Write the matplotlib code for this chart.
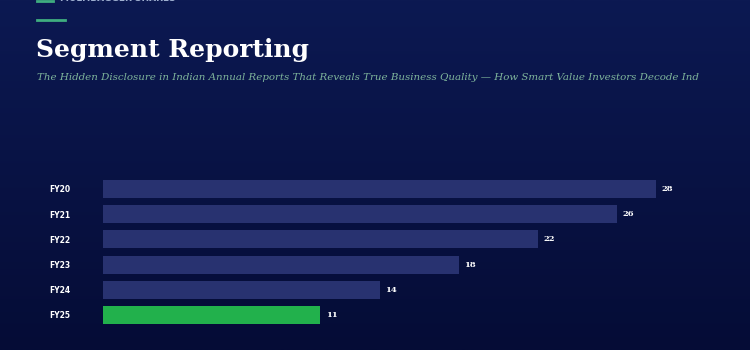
import numpy as np
import matplotlib
matplotlib.use("Agg")
import matplotlib.pyplot as plt
from matplotlib.colors import LinearSegmentedColormap

categories = ["FY20", "FY21", "FY22", "FY23", "FY24", "FY25"]
values = [28, 26, 22, 18, 14, 11]
value_labels = ["28", "26", "22", "18", "14", "11"]

W, H = 750, 350
fig = plt.figure(figsize=(W / 100, H / 100), dpi=100)

# background gradient
bg = fig.add_axes([0, 0, 1, 1], zorder=-10)
cmap = LinearSegmentedColormap.from_list("bg", ["#0c1952", "#050c36"])
grad = np.linspace(0, 1, 256).reshape(-1, 1)
bg.imshow(grad, aspect="auto", cmap=cmap, extent=[0, 1, 0, 1], origin="upper")
bg.set_axis_off()

def fx(px):
    return px / W

def fy(py):
    return 1 - py / H

# header
fig.add_artist(plt.Line2D([fx(37), fx(53)], [fy(0.5), fy(0.5)], color="#3fae80", lw=2))
fig.text(fx(60), fy(-1.5), "MULTIBAGGER SHARES", color="#9fb0d0", fontsize=6.5,
         fontweight="bold", family="DejaVu Sans", va="center", ha="left")
fig.add_artist(plt.Line2D([fx(37), fx(65)], [fy(20), fy(20)], color="#3fae80", lw=2))
fig.text(fx(36), fy(57), "Segment Reporting", color="white", fontsize=18,
         fontweight="bold", family="DejaVu Serif", va="baseline", ha="left")
fig.text(fx(37), fy(80), "The Hidden Disclosure in Indian Annual Reports That Reveals True Business Quality \u2014 How Smart Value Investors Decode Ind",
         color="#7fb59c", fontsize=7.4, style="italic", family="DejaVu Serif",
         va="baseline", ha="left")

# chart axes
x0, x1 = 103, 103 + 30 * 19.75
y_top, y_bot = 176.4, 327.6
ax = fig.add_axes([fx(x0), fy(y_bot), fx(x1 - x0), (y_bot - y_top) / H])
ax.set_facecolor("none")
colors = ["#283270"] * 5 + ["#22b14c"]
y = np.arange(len(categories))
ax.barh(y, values, height=0.71, color=colors, edgecolor="none")
ax.set_xlim(0, 30)
ax.set_ylim(len(categories) - 0.5, -0.5)
for yi, v, lab in zip(y, values, value_labels):
    ax.text(v + 0.3, yi, lab, color="white", fontsize=6, fontweight="bold",
            family="DejaVu Serif", va="center", ha="left")
ax.set_yticks(y)
ax.set_yticklabels(categories, color="white", fontsize=5.5, fontweight="bold",
                   family="DejaVu Sans")
ax.tick_params(axis="y", length=0, pad=31)
for lbl in ax.get_yticklabels():
    lbl.set_horizontalalignment("center")
ax.set_xticks([])
for s in ax.spines.values():
    s.set_visible(False)

fig.savefig("out.png", dpi=100)
